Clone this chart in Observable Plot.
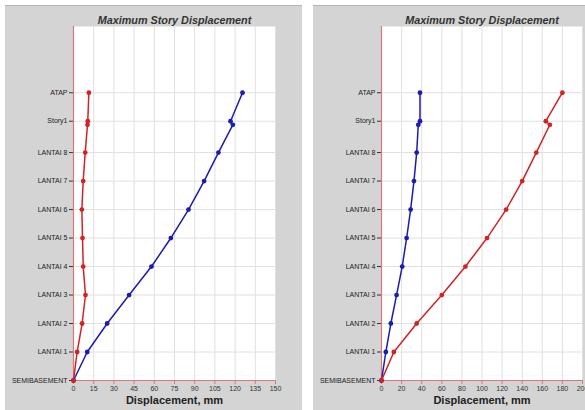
<!DOCTYPE html>
<html>
<head>
<meta charset="utf-8">
<script src="https://cdn.jsdelivr.net/npm/d3@7"></script>
<script src="https://cdn.jsdelivr.net/npm/@observablehq/plot@0.6"></script>
<style>
  html, body { margin: 0; padding: 0; background: #fff; width: 585px; height: 410px; overflow: hidden; }
  .panel { position: absolute; top: 5px; height: 405px; background: #d4d4d4; border-top: 1px solid #b4b4b4; box-sizing: border-box; overflow: hidden; }
</style>
</head>
<body>
<div id="left" class="panel" style="left:5px;width:297px;"></div>
<div id="right" class="panel" style="left:313px;width:300px;"></div>
<script>
// Story tick labels and their elevations (m)
const storyLabels = ["SEMIBASEMENT", "LANTAI 1", "LANTAI 2", "LANTAI 3", "LANTAI 4", "LANTAI 5", "LANTAI 6", "LANTAI 7", "LANTAI 8", "Story1", "ATAP"];
const storyElev = [0, 4, 8, 12, 16, 20, 24, 28, 32, 36.4, 40.4];
// Elevations of the plotted points (includes the extra point just below Story1)
const pointElev = [0, 4, 8, 12, 16, 20, 24, 28, 32, 35.9, 36.4, 40.4];

// Left chart (mm)
const leftBlue = [0, 10.2, 25.0, 41.3, 57.9, 72.3, 85.4, 97.0, 107.6, 118.3, 116.6, 125.5];
const leftRed = [0, 2.7, 6.4, 8.9, 7.2, 6.7, 6.2, 7.2, 8.7, 10.4, 10.6, 11.4];
const leftTicks = [0, 15, 30, 45, 60, 75, 90, 105, 120, 135, 150];

// Right chart (mm)
const rightBlue = [0, 4.3, 9.3, 15.0, 20.6, 25.0, 29.0, 32.3, 35.0, 36.6, 38.3, 38.3];
const rightRed = [0, 12.3, 35.0, 60.0, 83.5, 105.0, 124.0, 140.0, 154.0, 167.5, 163.5, 180.0];
const rightTicks = [0, 20, 40, 60, 80, 100, 120, 140, 160, 180, 200];

const titleText = "Maximum Story Displacement";
const xLabel = "Displacement, mm";

const RED = "#d02424";
const BLUE = "#1c1cb0";
const AXIS = "#d87878";
const labelMap = new Map(storyElev.map((e, i) => [e, storyLabels[i]]));

function chart({blue, red, ticks, width, marginRight}) {
  const blueData = blue.map((v, i) => ({x: v, y: pointElev[i]}));
  const redData = red.map((v, i) => ({x: v, y: pointElev[i]}));
  return Plot.plot({
    width, height: 405,
    marginLeft: 68, marginRight, marginTop: 20, marginBottom: 31,
    style: {background: "transparent", fontFamily: "'Liberation Sans', Arial, sans-serif", fontSize: "7px", color: "#222", overflow: "visible"},
    x: {domain: [ticks[0], ticks[ticks.length - 1]]},
    y: {domain: [0, 49.7]},
    marks: [
      Plot.frame({fill: "white", stroke: null}),
      Plot.gridX(ticks, {stroke: "#e0e0e0", strokeOpacity: 1}),
      Plot.gridY(storyElev, {stroke: "#e0e0e0", strokeOpacity: 1}),
      Plot.axisX(ticks, {tickSize: 4, tickPadding: 2, stroke: AXIS, fill: "#333", label: null}),
      Plot.axisY(storyElev, {tickSize: 4, tickPadding: 2, stroke: "#333", fill: "#222", tickFormat: d => labelMap.get(d), label: null}),
      Plot.ruleX([ticks[0]], {stroke: AXIS, strokeWidth: 1.2}),
      Plot.ruleY([0], {stroke: AXIS, strokeWidth: 1.2}),
      Plot.line(blueData, {x: "x", y: "y", stroke: BLUE, strokeWidth: 1.5}),
      Plot.dot(blueData, {x: "x", y: "y", fill: BLUE, r: 2.4}),
      Plot.line(redData, {x: "x", y: "y", stroke: RED, strokeWidth: 1.5}),
      Plot.dot(redData, {x: "x", y: "y", fill: RED, r: 2.4}),
      Plot.text([titleText], {frameAnchor: "top", dy: -10, fontSize: 10.8, fontWeight: "bold", fontStyle: "italic", fill: "#333"}),
      Plot.text([xLabel], {frameAnchor: "bottom", dy: 23, fontSize: 11, fontWeight: "bold", fill: "#222"})
    ]
  });
}

document.getElementById("left").append(chart({blue: leftBlue, red: leftRed, ticks: leftTicks, width: 297, marginRight: 27}));
document.getElementById("right").append(chart({blue: rightBlue, red: rightRed, ticks: rightTicks, width: 300, marginRight: 31}));
</script>
</body>
</html>
